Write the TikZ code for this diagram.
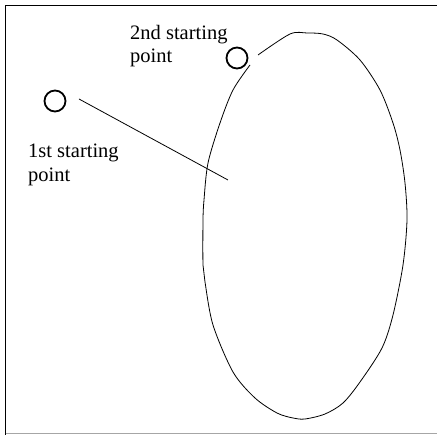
\documentclass[tikz,border=0pt]{standalone}
\usepackage{fontspec}
\setmainfont{Liberation Serif}
\newcommand\lblfont{\fontsize{20.5pt}{23pt}\selectfont}
\begin{document}
\begin{tikzpicture}[x=1pt,y=-1pt,
  startpt/.style={draw,circle,line width=1.8pt,minimum size=21pt,inner sep=0pt},
  lbl/.style={anchor=base west,inner sep=0pt,font=\lblfont},
  thin line/.style={line width=0.8pt}]
\useasboundingbox (0,0) rectangle (437,435);
% frame
\draw[line width=1.6pt] (5.5,435) -- (5.5,5.5) -- (437,5.5);
\draw[gray!70,line width=1pt] (5.5,433.5) -- (437,433.5);
% starting points
\node[startpt] (p1) at (55,101) {};
\node[startpt] (p2) at (237,58) {};
% labels
\node[lbl] (l2a) at (130,40) {\lblfont 2nd starting};
\node[lbl] (l2b) at (130,63) {\lblfont point};
\node[lbl] (l1a) at (28,158) {\lblfont 1st starting};
\node[lbl] (l1b) at (28,182) {\lblfont point};
% line from first start point
\coordinate (s1) at (79,99);
\coordinate (e1) at (228,180);
\draw[thin line] (s1) -- (e1);
% egg-shaped loop
\draw[thin line] plot[smooth,tension=0.5] coordinates {
 (258,55) (290,34) (307,33) (323,34) (337,40) (360,60) (380,90) (393,123)
 (400,150) (405,183) (407,220) (403,265) (393,315) (382,348) (360,382)
 (343,403) (325,414) (305,419) (293,418) (277,413) (255,398) (233,372)
 (213,325) (205,282) (203,265) (203,220) (204,200) (208,163) (220,123)
 (233,90) (250,65)};
\end{tikzpicture}
\end{document}
